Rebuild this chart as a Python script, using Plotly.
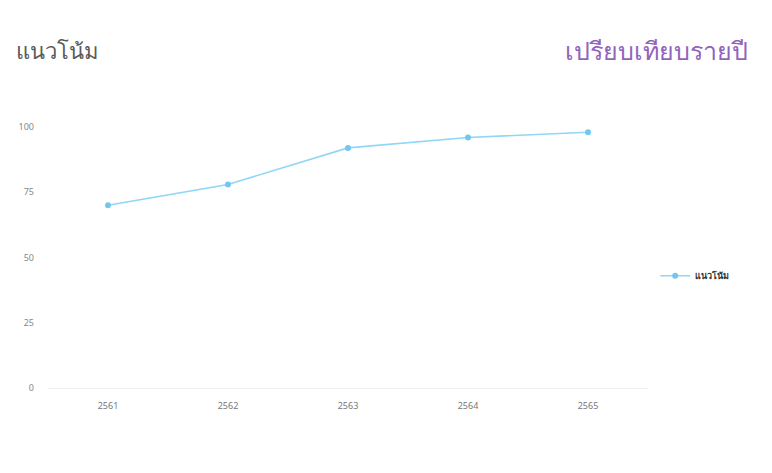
import plotly.graph_objects as go

years = ["2561", "2562", "2563", "2564", "2565"]
values = [70, 78, 92, 96, 98]
series_name = "แนวโน้ม"
y_ticks = [0, 25, 50, 75, 100]

fig = go.Figure()
fig.add_trace(go.Scatter(
    x=years, y=values, mode="lines+markers", name=series_name,
    line=dict(color="#8fd6f7", width=1.6),
    marker=dict(color="#72c6f0", size=6),
    showlegend=True,
))

fig.update_layout(
    width=772, height=473,
    paper_bgcolor="white", plot_bgcolor="white",
    margin=dict(l=40, r=132, t=119, b=93),
    font=dict(family="Noto Sans, sans-serif", color="#666"),
    xaxis=dict(type="category", range=[-0.5, 4.5], showgrid=False, showline=False,
               zeroline=False, ticks="", tickfont=dict(size=9, color="#777"),
               ticklabelstandoff=11),
    yaxis=dict(range=[0, 100], tickvals=y_ticks, showgrid=False, zeroline=True,
               zerolinecolor="#f0f0f0", zerolinewidth=1, showline=False, ticks="",
               tickfont=dict(size=9, color="#888"), ticklabelstandoff=13),
    legend=dict(x=1.012, xanchor="left", y=0.43, yanchor="middle", itemwidth=30,
                font=dict(size=9, color="#333", weight="bold"), bgcolor="rgba(0,0,0,0)"),
    annotations=[
        dict(text="แนวโน้ม", xref="paper", yref="paper", x=0, y=1,
             xanchor="left", yanchor="middle", xshift=-34, yshift=77, showarrow=False,
             font=dict(size=22, color="#5a5a5a")),
        dict(text="เปรียบเทียบรายปี", xref="paper", yref="paper", x=1, y=1,
             xanchor="right", yanchor="middle", xshift=102, yshift=77, showarrow=False,
             font=dict(size=25, color="#9263bd")),
    ],
)

fig.write_html("out.html")
